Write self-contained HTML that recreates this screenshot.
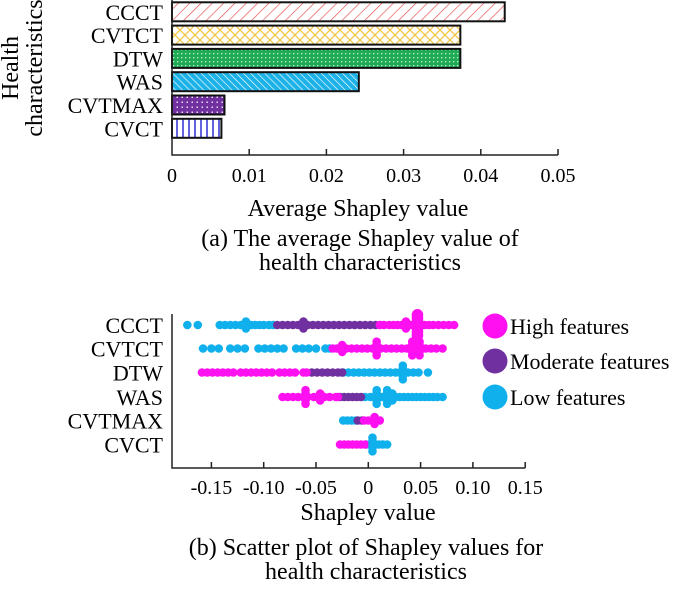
<!DOCTYPE html>
<html><head><meta charset="utf-8"><style>
html,body{margin:0;padding:0;background:#fff;}
svg text{font-family:"Liberation Serif",serif;fill:#000;}
</style></head><body>
<svg id="chart" width="685" height="586" viewBox="0 0 685 586" xmlns="http://www.w3.org/2000/svg">
<defs>
<pattern id="pRed" patternUnits="userSpaceOnUse" width="8" height="8" patternTransform="rotate(45)"><rect width="8" height="8" fill="#fff"/><line x1="0" y1="0" x2="0" y2="8" stroke="#e8484b" stroke-width="1.3"/></pattern>
<pattern id="pYel" patternUnits="userSpaceOnUse" width="10" height="10"><rect width="10" height="10" fill="#fff"/><path d="M0 0L10 10M10 0L0 10" stroke="#f2c744" stroke-width="1.3"/></pattern>
<pattern id="pGrn" patternUnits="userSpaceOnUse" width="4" height="4"><rect width="4" height="4" fill="#1faa55"/><rect x="1" y="1" width="1.3" height="1.3" fill="#c9f0d4"/></pattern>
<pattern id="pCyan" patternUnits="userSpaceOnUse" width="5" height="5" patternTransform="rotate(-45)"><rect width="5" height="5" fill="#1cb2e8"/><line x1="0" y1="0" x2="0" y2="5" stroke="#fff" stroke-width="1.3"/></pattern>
<pattern id="pPur" patternUnits="userSpaceOnUse" width="5" height="5"><rect width="5" height="5" fill="#7030a0"/><rect x="1.5" y="1.5" width="1.5" height="1.5" fill="#e8d8f4"/></pattern>
<pattern id="pBlue" patternUnits="userSpaceOnUse" width="6" height="6"><rect width="6" height="6" fill="#fff"/><line x1="3" y1="0" x2="3" y2="6" stroke="#2020d0" stroke-width="1.4"/></pattern>
</defs>
<g id="topChart"></g>
<g id="botChart"></g>
</svg>
<script>
// ---- top bar chart data ----
const barCategories = ["CCCT","CVTCT","DTW","WAS","CVTMAX","CVCT"];
const barValues = [0.0431, 0.03735, 0.03735, 0.0242, 0.0068, 0.0064];
const barFills = ["url(#pRed)","url(#pYel)","url(#pGrn)","url(#pCyan)","url(#pPur)","url(#pBlue)"];
const barTicks = [0, 0.01, 0.02, 0.03, 0.04, 0.05];
const barTickLabels = ["0","0.01","0.02","0.03","0.04","0.05"];

// ---- bottom scatter data ----
const scatterCategories = ["CCCT","CVTCT","DTW","WAS","CVTMAX","CVCT"];
const scatterTicks = [-0.15,-0.10,-0.05,0,0.05,0.10,0.15];
const scatterTickLabels = ["-0.15","-0.10","-0.05","0","0.05","0.10","0.15"];
const lowVals = [
 [-0.173,-0.163,-0.142,-0.137,-0.132,-0.127,-0.122,-0.117,-0.112,-0.108,-0.104,-0.100,-0.095,-0.091],
 [-0.158,-0.150,-0.143,-0.132,-0.125,-0.118,-0.105,-0.099,-0.093,-0.087,-0.081,-0.069,-0.063,-0.057,-0.050,-0.041,-0.037],
 [-0.024,-0.019,-0.014,-0.009,-0.004,0.001,0.006,0.011,0.016,0.021,0.026,0.030,0.034,0.038,0.043,0.048,0.057],
 [-0.003,0.002,0.006,0.010,0.014,0.018,0.022,0.026,0.030,0.034,0.038,0.042,0.046,0.050,0.054,0.058,0.062,0.066,0.071],
 [-0.024,-0.020,-0.016,-0.012],
 [-0.002,0.002,0.006,0.010,0.014,0.018]
];
const modVals = [
 [-0.087,-0.082,-0.077,-0.072,-0.067,-0.062,-0.058,-0.053,-0.048,-0.043,-0.038,-0.033,-0.028,-0.023,-0.018,-0.013,-0.008,-0.003,0.002,0.007],
 [],
 [-0.054,-0.049,-0.044,-0.039,-0.034,-0.029,-0.025],
 [-0.027,-0.023,-0.019,-0.015,-0.011,-0.007],
 [-0.010,-0.006],
 []
];
const highVals = [
 [0.011,0.015,0.020,0.024,0.028,0.032,0.036,0.040,0.044,0.047,0.050,0.054,0.058,0.062,0.067,0.072,0.077,0.082],
 [-0.034,-0.030,-0.026,-0.021,-0.016,-0.011,-0.006,-0.001,0.004,0.008,0.012,0.017,0.022,0.027,0.032,0.037,0.042,0.046,0.050,0.055,0.060,0.065,0.071],
 [-0.159,-0.154,-0.149,-0.144,-0.139,-0.134,-0.129,-0.122,-0.117,-0.112,-0.107,-0.102,-0.097,-0.092,-0.085,-0.080,-0.075,-0.070,-0.062,-0.059],
 [-0.082,-0.077,-0.072,-0.067,-0.062,-0.058,-0.052,-0.047,-0.042,-0.037,-0.031,-0.029],
 [-0.004,0.000,0.004,0.008,0.011],
 [-0.027,-0.023,-0.019,-0.015,-0.011,-0.007,-0.003]
];
// vertical clusters: row index, value, color group, half-height in dots
const clusterRows = [0,0,0,0,1,1,1,1,2,3,3,3,3,3,4,5];
const clusterVals = [0.047,0.036,-0.062,-0.117,0.008,0.042,0.049,-0.025,0.033,-0.060,-0.046,0.008,0.018,0.023,0.006,0.004];
const clusterGroups = ["high","high","mod","low","high","high","high","high","low","high","high","low","low","low","high","low"];
const clusterSpans = [3,1,1,1,2,2,2,1,2,2,1,2,2,1,1,2];

const NS = "http://www.w3.org/2000/svg";
function mk(tag, attrs, parent){const e=document.createElementNS(NS,tag);for(const k in attrs)e.setAttribute(k,attrs[k]);parent.appendChild(e);return e;}
function addText(parent,x,y,str,size,name,anchor,extra){
  const t = mk('text',Object.assign({x:x,y:y,'text-anchor':anchor||'middle','font-size':size},extra||{}),parent);
  t.textContent=str;
  
  
  return t;
}

// ===== top chart =====
const topG = document.getElementById('topChart');
const tx0 = 172, tx1 = 558, tyTop = 0, tyAxis = 155;
const bx = v => tx0 + (v/0.05)*(tx1-tx0);
const rowPitch = 23.3, rowStart = 11.8, barH = 19;
barCategories.forEach((c,i)=>{
  const yc = rowStart + i*rowPitch;
  const r = mk('rect',{x:bx(0),y:yc-barH/2,width:bx(barValues[i])-bx(0),height:barH,fill:barFills[i],stroke:'#111','stroke-width':2},topG);
  
  
  addText(topG,163,yc+8,c,22,'bar-label-'+c.toLowerCase(),'end');
});
const ax1 = mk('path',{d:`M${tx0} ${tyTop}V${tyAxis}H${tx1}`,fill:'none',stroke:'#222','stroke-width':1.5},topG);


barTicks.forEach((v,i)=>{
  if(i>0) mk('line',{x1:bx(v),x2:bx(v),y1:tyAxis,y2:tyAxis-6,stroke:'#222','stroke-width':1.5},topG);
  addText(topG,bx(v),182,barTickLabels[i],20,'bar-x-tick-label');
});
addText(topG,358,216,"Average Shapley value",24,'bar-x-axis-title');
addText(topG,0,0,"Health",24,'bar-y-axis-title-line1','middle',{transform:'translate(18,68) rotate(-90)'});
addText(topG,0,0,"characteristics",24,'bar-y-axis-title-line2','middle',{transform:'translate(42,68) rotate(-90)'});
addText(topG,360,246,"(a) The average Shapley value of",24,'caption-a-line1');
addText(topG,360,270,"health characteristics",24,'caption-a-line2');

// ===== bottom chart =====
const botG = document.getElementById('botChart');
const sx0 = 368.3, perUnit = 1046, syAxis = 468, syTop = 314;
const sx = v => sx0 + v*perUnit;
const sRowY = [325,348.5,372.5,397,420.5,444.5];
const colors = {low:'#0fb0ec', mod:'#7030a0', high:'#ff10f0'};
const dotR = 4.3;
function dots(arr, grp){
  arr.forEach((vals,ri)=>{
    vals.forEach(v=>{
      const c = mk('circle',{cx:sx(v),cy:sRowY[ri],r:dotR,fill:colors[grp]},botG);
      
      
    });
  });
}
dots(lowVals,'low'); dots(modVals,'mod'); dots(highVals,'high');
clusterRows.forEach((ri,k)=>{
  for(let j=-clusterSpans[k]; j<=clusterSpans[k]; j++){
    const c = mk('circle',{cx:sx(clusterVals[k]),cy:sRowY[ri]+j*3.4,r:dotR+(clusterSpans[k]>2?1.5:0),fill:colors[clusterGroups[k]]},botG);
    
    
  }
});
const ax2 = mk('path',{d:`M172 ${syTop}V${syAxis}H${sx(0.15)}`,fill:'none',stroke:'#222','stroke-width':1.5},botG);


scatterTicks.forEach((v,i)=>{
  mk('line',{x1:sx(v),x2:sx(v),y1:syAxis,y2:syAxis-6,stroke:'#222','stroke-width':1.5},botG);
  addText(botG,sx(v),494,scatterTickLabels[i],20,'scatter-x-tick-label');
});
scatterCategories.forEach((c,i)=>addText(botG,163,sRowY[i]+8,c,22,'scatter-label-'+c.toLowerCase(),'end'));
addText(botG,368,520,"Shapley value",24,'scatter-x-axis-title');
addText(botG,366,555,"(b) Scatter plot of Shapley values for",24,'caption-b-line1');
addText(botG,366,579,"health characteristics",24,'caption-b-line2');
const legendLabels = ["High features","Moderate features","Low features"];
const legendColors = [colors.high, colors.mod, colors.low];
const legendY = [326,361,397];
legendLabels.forEach((l,i)=>{
  const c = mk('circle',{cx:495,cy:legendY[i],r:12.5,fill:legendColors[i]},botG);
  
  
  addText(botG,510,legendY[i]+8,l,22,'legend-entry','start');
});
</script>
</body></html>
